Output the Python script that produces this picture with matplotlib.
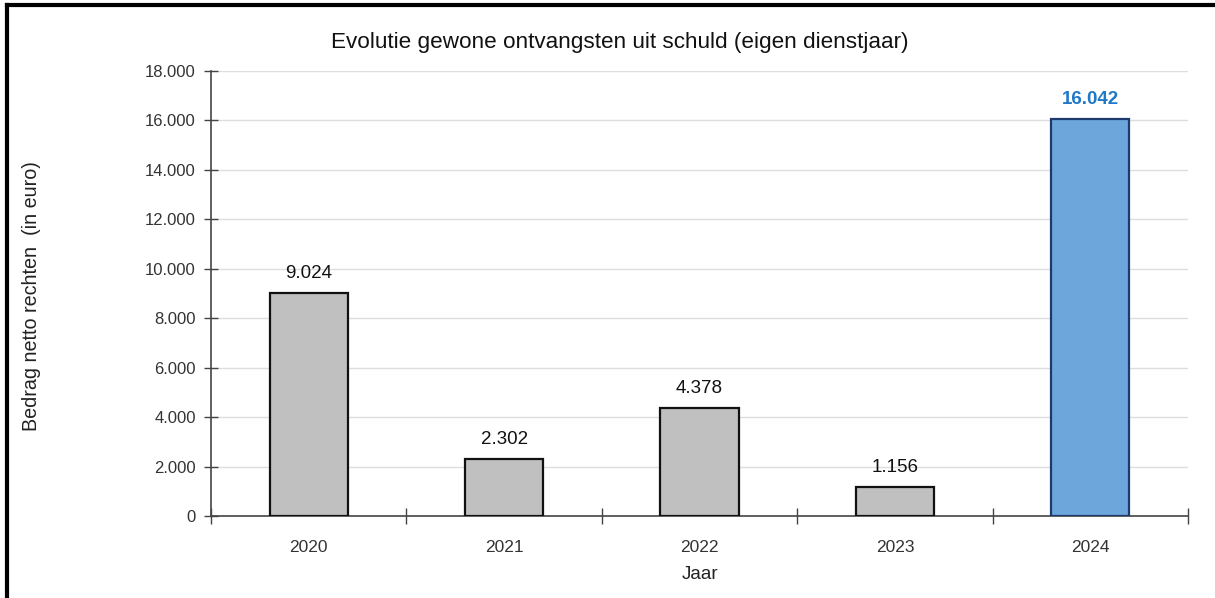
import matplotlib
matplotlib.use("Agg")
import matplotlib.pyplot as plt
from matplotlib.lines import Line2D

plt.rcParams['font.family'] = ['Liberation Sans', 'DejaVu Sans']

years = ["2020", "2021", "2022", "2023", "2024"]
values = [9024, 2302, 4378, 1156, 16042]
value_labels = ["9.024", "2.302", "4.378", "1.156", "16.042"]
yticks = [0, 2000, 4000, 6000, 8000, 10000, 12000, 14000, 16000, 18000]
ytick_labels = ["0", "2.000", "4.000", "6.000", "8.000", "10.000", "12.000", "14.000", "16.000", "18.000"]

fig = plt.figure(figsize=(12.15, 5.98), dpi=100)
ax = fig.add_axes([0.1737, 0.1371, 0.8041, 0.7442])

x = list(range(len(years)))
colors = ["#C0C0C0"] * 4 + ["#6CA6DA"]
edges = ["#111111"] * 4 + ["#1C3A6E"]
bars = ax.bar(x, values, width=0.4, color=colors, edgecolor=edges, linewidth=1.6, zorder=3)

for i, (v, lab) in enumerate(zip(values, value_labels)):
    if i == len(values) - 1:
        ax.annotate(lab, (i, v), xytext=(0, 8), textcoords="offset points", ha="center", va="bottom",
                    fontsize=13.5, color="#1F78C8", fontweight="bold")
    else:
        ax.annotate(lab, (i, v), xytext=(0, 8), textcoords="offset points", ha="center", va="bottom",
                    fontsize=13.5, color="#111111")

ax.set_xlim(-0.5, len(years) - 0.5)
ax.set_ylim(0, 18000)
ax.set_yticks(yticks)
ax.set_yticklabels(ytick_labels, fontsize=12, color="#333333")
ax.set_xticks(x)
ax.set_xticklabels(years, fontsize=12.5, color="#333333")
ax.tick_params(axis="x", length=0, pad=17)
ax.tick_params(axis="y", direction="inout", length=10, width=1, color="#444444", pad=6)

# category boundary ticks on x axis
ax.set_xticks([i - 0.5 for i in range(len(years) + 1)], minor=True)
ax.tick_params(axis="x", which="minor", direction="inout", length=12, width=1, color="#444444")

ax.grid(axis="y", color="#DDDDDD", linewidth=1, zorder=0)
for s in ["top", "right"]:
    ax.spines[s].set_visible(False)
ax.spines["left"].set_color("#444444")
ax.spines["bottom"].set_color("#444444")
ax.spines["left"].set_linewidth(1.2)
ax.spines["bottom"].set_linewidth(1.2)

ax.set_xlabel("Jaar", fontsize=13.5, color="#222222", labelpad=8)
fig.text(0.026, 0.505, "Bedrag netto rechten  (in euro)", rotation=90, ha="center", va="center",
         fontsize=14.2, color="#222222")
fig.text(0.51, 0.929, "Evolutie gewone ontvangsten uit schuld (eigen dienstjaar)", ha="center", va="center",
         fontsize=16.2, color="#111111")

# frame lines (left and top)
fig.add_artist(Line2D([0.006, 0.006], [0, 0.992], transform=fig.transFigure, color="black", linewidth=3))
fig.add_artist(Line2D([0.006, 1.0], [0.992, 0.992], transform=fig.transFigure, color="black", linewidth=3))

fig.savefig("out.png", dpi=100)
